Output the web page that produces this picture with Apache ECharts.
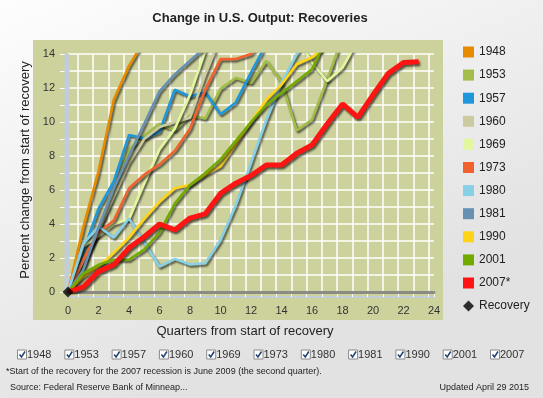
<!DOCTYPE html>
<html><head><meta charset="utf-8">
<script src="https://cdn.jsdelivr.net/npm/echarts@6/dist/echarts.min.js"></script>
<style>html,body{margin:0;padding:0;background:#eee;}#c{width:543px;height:398px;}</style>
</head><body><div id="c"></div>
<script>
// ---- data (percent change from start of recovery, by quarter) ----
const seriesNames = ['1948','1953','1957','1960','1969','1973','1980','1981','1990','2001','2007*'];
const checkboxLabels = ['1948','1953','1957','1960','1969','1973','1980','1981','1990','2001','2007'];
const s1948 = [0, 3.8, 7.1, 11.3, 13.3, 14.8, 15.9];
const s1953 = [0, 1.5, 3.6, 6.0, 8.4, 9.2, 9.9, 9.5, 10.4, 10.2, 11.95, 12.6, 12.3, 13.6, 12.35, 9.5, 10.15, 12.5, 15.0];
const s1957 = [0, 2.4, 4.9, 6.5, 9.24, 9.04, 9.43, 11.9, 11.5, 11.75, 10.45, 11.15, 12.9, 14.6];
const s1960 = [0, 1.8, 3.6, 5.6, 7.6, 9.0, 9.7, 10.0, 10.25, 12.8, 15.0];
const s1969 = [0, 2.7, 3.3, 4.0, 4.3, 6.4, 8.4, 9.6, 11.6, 14.2, 15.3, 15.9, 16.9, 16.5, 16.3, 15.0, 13.5, 12.4, 13.2, 14.8];
const s1973 = [0, 1.9, 3.5, 4.2, 6.1, 6.9, 7.5, 8.3, 9.6, 11.9, 13.7, 13.7, 14.0, 15.0];
const s1980 = [0, 2.85, 3.85, 3.2, 4.33, 2.9, 1.5, 1.95, 1.62, 1.69, 3.06, 5.1, 7.6, 10.1, 12.3, 14.0, 15.2];
const s1981 = [0, 1.3, 3.8, 6.1, 8.0, 9.9, 11.8, 12.8, 13.6, 14.4, 15.1];
const s1990 = [0, 0.9, 1.5, 2.3, 3.2, 4.3, 5.3, 6.1, 6.3, 6.9, 7.4, 8.7, 10.0, 11.3, 12.2, 13.4, 13.8, 14.5];
const s2001 = [0, 1.1, 1.6, 1.9, 1.9, 2.5, 3.5, 5.2, 6.3, 7.0, 7.8, 8.9, 10.0, 11.0, 11.7, 12.4, 13.1, 15.0];
const s2007 = [0, 0.3, 1.2, 1.6, 2.6, 3.25, 4.0, 3.65, 4.35, 4.6, 5.8, 6.4, 6.85, 7.47, 7.47, 8.16, 8.65, 9.9, 11.06, 10.27, 11.6, 12.86, 13.5, 13.55];
const recoveryPoint = [[0, 0]];
const xTickLabels = ['0','2','4','6','8','10','12','14','16','18','20','22','24'];
const yTickLabels = ['0','2','4','6','8','10','12','14'];

const allSeries = [s1948, s1953, s1957, s1960, s1969, s1973, s1980, s1981, s1990, s2001, s2007];
const colors = ['#e88a00','#a3bd4a','#1f97dc','#cbcb9f','#e3f6a0','#f2622f','#88d0e5','#6791b3','#ffd318','#72ab00','#ff1414'];

const FONT = '"Liberation Sans", Arial, sans-serif';
const chart = echarts.init(document.getElementById('c'), null, {renderer: 'canvas'});

const lineSeries = allSeries.map((vals, i) => ({
  name: seriesNames[i],
  type: 'line',
  data: vals.map((v, q) => [q, v]),
  showSymbol: false,
  symbol: 'none',
  silent: true,
  clip: true,
  color: colors[i],
  itemStyle: {color: colors[i]},
  lineStyle: {
    color: colors[i],
    width: i === 10 ? 5 : 2.6,
    shadowColor: 'rgba(0,0,0,0.6)',
    shadowBlur: 2,
    shadowOffsetX: 1.5,
    shadowOffsetY: 2
  },
  emphasis: {disabled: true},
  z: 3 + i
}));

lineSeries.push({
  name: 'Recovery',
  type: 'scatter',
  data: recoveryPoint,
  symbol: 'diamond',
  symbolSize: 11,
  clip: false,
  silent: true,
  itemStyle: {color: '#000'},
  z: 20
});

const graphics = [
  {type: 'rect', z: -10, shape: {x: 0, y: 0, width: 543, height: 398},
   style: {fill: new echarts.graphic.LinearGradient(0, 0, 0.3, 1, [{offset: 0, color: '#fdfdfd'}, {offset: 1, color: '#e2e2e2'}])}},
  {type: 'rect', z: -9, shape: {x: 33, y: 40, width: 410, height: 280}, style: {fill: '#cdd29d'}},
  {type: 'rect', z: 1, shape: {x: 64.5, y: 54, width: 5, height: 238}, style: {fill: '#c3cdd9'}},
  {type: 'text', x: 260, y: 18, style: {text: 'Change in U.S. Output: Recoveries', font: 'bold 13px ' + FONT, fill: '#222', align: 'center', verticalAlign: 'middle'}},
  {type: 'text', x: 25, y: 170, rotation: Math.PI / 2, style: {text: 'Percent change from start of recovery', font: '13px ' + FONT, fill: '#222', align: 'center', verticalAlign: 'middle'}},
  {type: 'text', x: 245, y: 331, style: {text: 'Quarters from start of recovery', font: '13px ' + FONT, fill: '#222', align: 'center', verticalAlign: 'middle'}},
  {type: 'text', x: 6, y: 372, style: {text: '*Start of the recovery for the 2007 recession is June 2009 (the second quarter).', font: '9px ' + FONT, fill: '#222', align: 'left', verticalAlign: 'middle'}},
  {type: 'text', x: 10, y: 388, style: {text: 'Source: Federal Reserve Bank of Minneap...', font: '9px ' + FONT, fill: '#222', align: 'left', verticalAlign: 'middle'}},
  {type: 'text', x: 529, y: 388, style: {text: 'Updated April 29 2015', font: '9px ' + FONT, fill: '#222', align: 'right', verticalAlign: 'middle'}}
];

checkboxLabels.forEach((lab, i) => {
  const x = 17.5 + 47.3 * i, y = 350;
  graphics.push({type: 'rect', shape: {x: x, y: y, width: 9, height: 9}, style: {fill: '#fff', stroke: '#8a8a8a', lineWidth: 1}});
  graphics.push({type: 'polyline', shape: {points: [[x + 2, y + 4.5], [x + 4, y + 7], [x + 7.5, y + 1.5]]}, style: {stroke: '#1d3f73', lineWidth: 1.5, fill: null}});
  graphics.push({type: 'text', x: x + 9.5, y: y + 4.5, style: {text: lab, font: '11px ' + FONT, fill: '#333', align: 'left', verticalAlign: 'middle'}});
});

const legendData = seriesNames.map(n => ({name: n, icon: 'rect'}));
legendData.push({name: 'Recovery', icon: 'diamond'});

chart.setOption({
  animation: false,
  textStyle: {fontFamily: FONT},
  grid: {left: 68, top: 54, width: 366, height: 238, containLabel: false},
  legend: {
    data: legendData,
    orient: 'vertical',
    left: 458, top: 40,
    itemWidth: 11, itemHeight: 11, itemGap: 9.1,
    selectedMode: false,
    textStyle: {fontSize: 12, color: '#222', fontFamily: FONT, lineHeight: 14},
    itemStyle: {shadowBlur: 0, shadowColor: 'transparent', borderWidth: 0}
  },
  xAxis: [
    {type: 'value', min: 0, max: 24, interval: 2, position: 'bottom',
     axisLine: {show: true, onZero: false, lineStyle: {color: '#8b8b83', width: 3}},
     axisTick: {show: false},
     axisLabel: {color: '#333', fontSize: 11, margin: 13, formatter: v => xTickLabels[Math.round(v / 2)] ?? ''},
     splitLine: {show: false}, z: 2},
    {type: 'value', min: -0.65, max: 23.35, splitNumber: 24, position: 'bottom', offset: 5,
     axisLine: {show: true, onZero: false, lineStyle: {color: '#c3cdd9', width: 2}},
     axisTick: {show: true, inside: true, length: 5, lineStyle: {color: '#ffffff', width: 1}},
     axisLabel: {show: false},
     splitLine: {show: true, showMinLine: false, showMaxLine: false, lineStyle: {color: '#ffffff', width: 1.5}}}
  ],
  yAxis: {
    type: 'value', min: 0, max: 14, interval: 1,
    axisLine: {show: false},
    axisTick: {show: true, length: 8, lineStyle: {color: '#ffffff', width: 1}},
    axisLabel: {color: '#333', fontSize: 11, margin: 13, formatter: v => (v % 2 === 0 ? yTickLabels[v / 2] : '')},
    splitLine: {show: true, lineStyle: {color: '#ffffff', width: 1.5}}
  },
  graphic: graphics,
  series: lineSeries
});
</script>
</body></html>
